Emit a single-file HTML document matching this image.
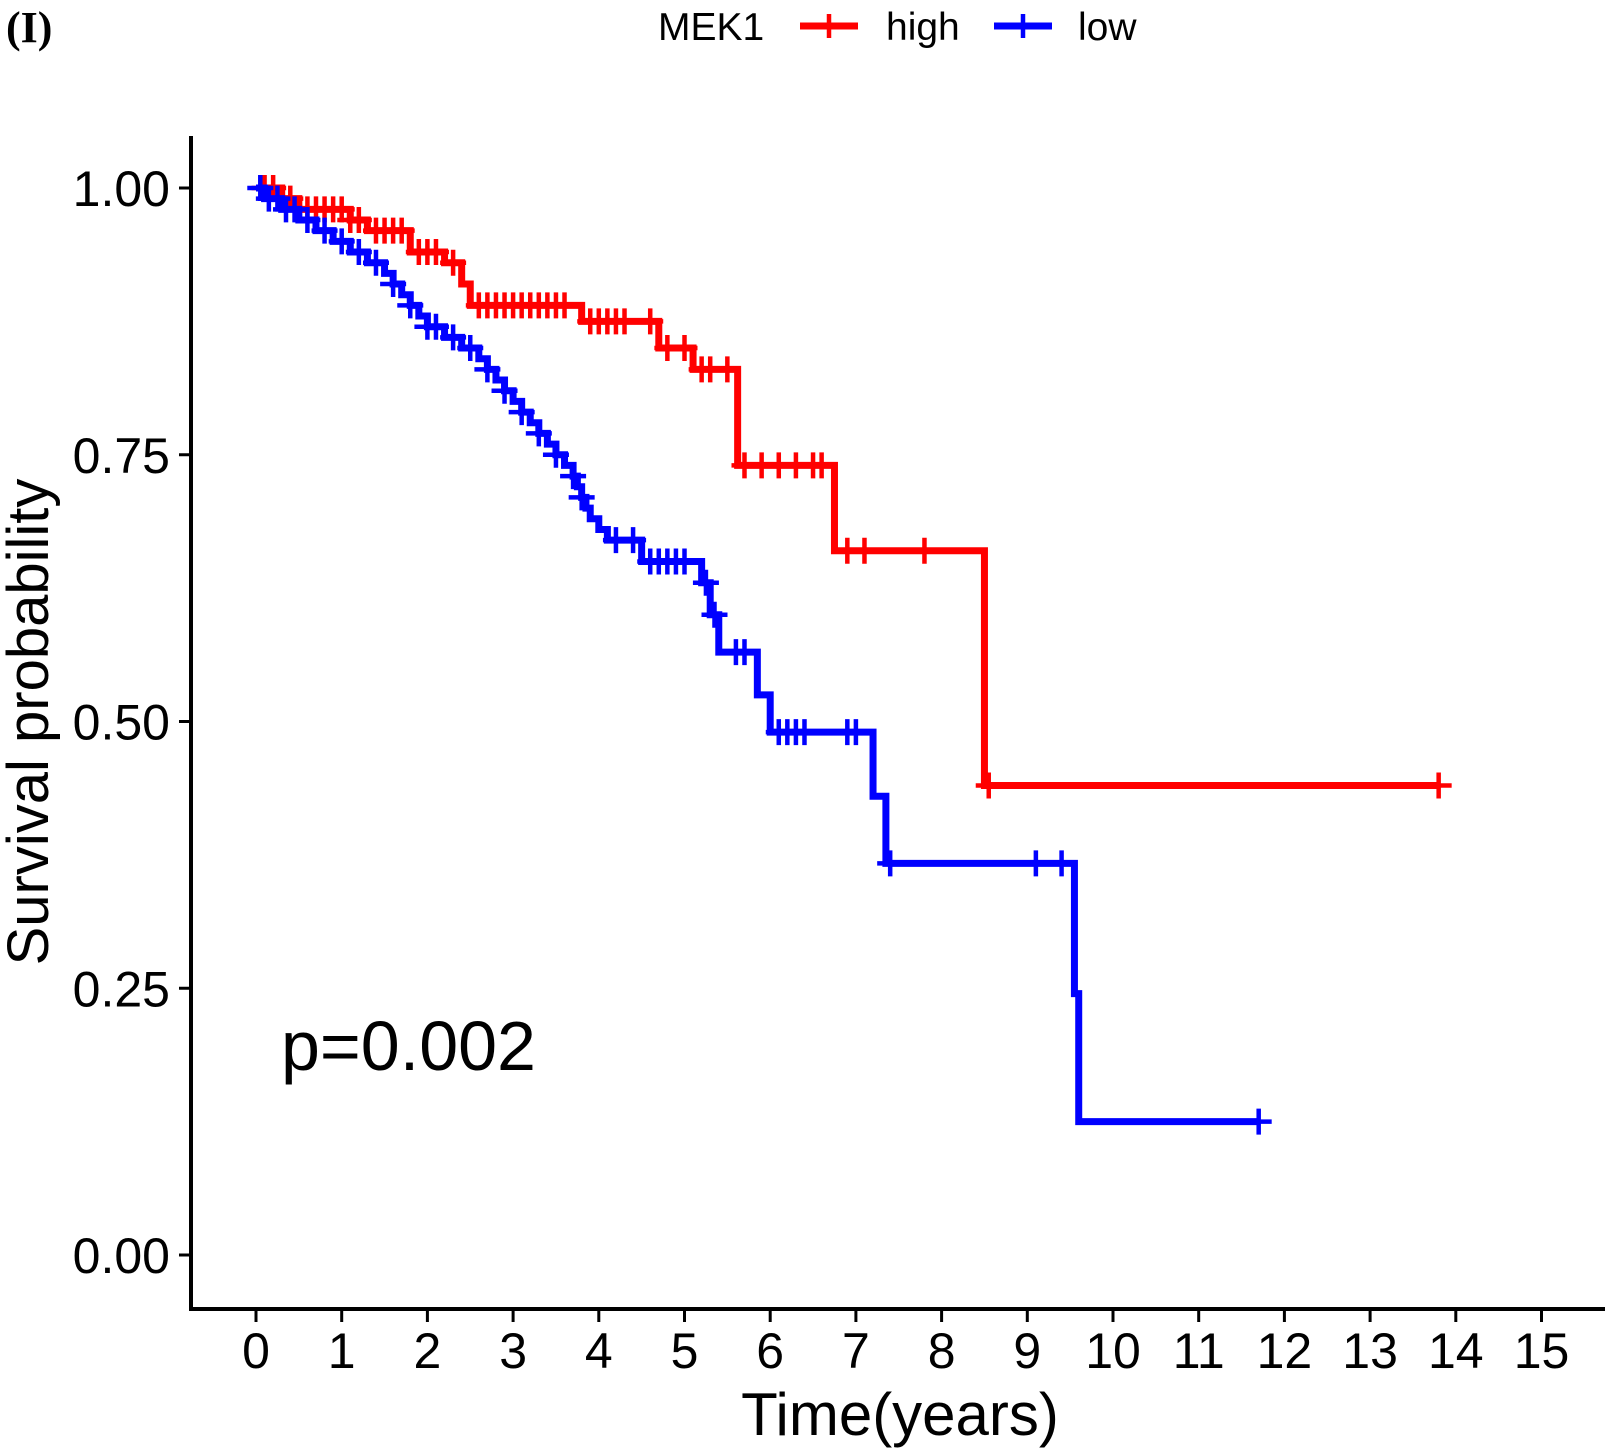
<!DOCTYPE html>
<html><head><meta charset="utf-8"><style>
html,body{margin:0;padding:0;background:#fff;}
svg{display:block;font-family:"Liberation Sans",Arial,sans-serif;}
</style></head><body>
<svg id="chart" width="1610" height="1448" viewBox="0 0 1610 1448" xmlns="http://www.w3.org/2000/svg">
<text x="6" y="42" font-family="Liberation Serif,serif" font-weight="bold" font-size="44">(I)</text>
<g>
<text x="658" y="40" font-size="39">MEK1</text>
<g>
<line x1="800" y1="26" x2="858" y2="26" stroke="#f00" stroke-width="7"/><line x1="829" y1="14" x2="829" y2="38" stroke="#f00" stroke-width="4.5"/>
<text x="886" y="40" font-size="39">high</text></g>
<g>
<line x1="994" y1="26" x2="1052" y2="26" stroke="#00f" stroke-width="7"/><line x1="1023" y1="14" x2="1023" y2="38" stroke="#00f" stroke-width="4.5"/>
<text x="1078" y="40" font-size="39">low</text></g>
</g>
<g id="axes"></g>
<g id="series"></g>
<text x="281" y="1070" font-size="70">p=0.002</text>
<text x="900" y="1435" font-size="60" text-anchor="middle">Time(years)</text>
<text transform="translate(48,722) rotate(-90)" font-size="58" text-anchor="middle">Survival probability</text>
</svg>
<script>
const xTicks=[0,1,2,3,4,5,6,7,8,9,10,11,12,13,14,15];
const yTicks=[0,0.25,0.5,0.75,1];
const yTickLabels=["0.00","0.25","0.50","0.75","1.00"];
const highTimes=[0,0.3,0.5,1.1,1.3,1.8,2.2,2.4,2.5,3.8,4.7,5.1,5.62,6.75,8.5];
const highSurv=[1,0.99,0.98,0.97,0.96,0.94,0.93,0.91,0.89,0.875,0.85,0.83,0.74,0.66,0.44];
const highEnd=13.8;
const highCensor=[0.1,0.2,0.3,0.4,0.6,0.7,0.8,0.9,1.0,1.1,1.2,1.4,1.5,1.6,1.7,1.9,2.0,2.1,2.3,2.6,2.7,2.8,2.9,3.0,3.1,3.2,3.3,3.4,3.5,3.6,3.9,4.0,4.1,4.2,4.3,4.6,4.8,5.0,5.2,5.3,5.5,5.7,5.9,6.1,6.3,6.5,6.6,6.9,7.1,7.8,8.55,13.8];
const lowTimes=[0,0.1,0.3,0.5,0.7,0.9,1.1,1.3,1.5,1.6,1.7,1.8,1.9,2.0,2.2,2.4,2.6,2.7,2.8,2.9,3.0,3.1,3.2,3.3,3.4,3.5,3.6,3.7,3.75,3.8,3.85,3.9,4.0,4.1,4.5,5.2,5.3,5.4,5.85,6.0,7.2,7.35,9.55,9.6];
const lowSurv=[1,0.99,0.98,0.97,0.96,0.95,0.94,0.93,0.92,0.91,0.90,0.89,0.88,0.87,0.86,0.85,0.84,0.83,0.82,0.81,0.80,0.79,0.78,0.77,0.76,0.75,0.74,0.73,0.72,0.71,0.70,0.69,0.68,0.67,0.65,0.63,0.60,0.565,0.525,0.49,0.43,0.367,0.245,0.125];
const lowEnd=11.7;
const lowCensor=[0.05,0.15,0.25,0.35,0.45,0.6,0.8,1.0,1.2,1.4,1.6,1.8,2.0,2.1,2.3,2.5,2.7,2.9,3.1,3.3,3.5,3.7,3.8,4.2,4.4,4.6,4.7,4.8,4.9,5.0,5.25,5.35,5.6,5.7,6.1,6.2,6.3,6.4,6.9,7.0,7.4,9.1,9.4,11.7];

const NS="http://www.w3.org/2000/svg";
const X=t=>256+t*85.7;
const Y=s=>1255-s*1067;
function mk(tag,attrs,parent){const e=document.createElementNS(NS,tag);for(const k in attrs)e.setAttribute(k,attrs[k]);parent.appendChild(e);return e;}
const axes=document.getElementById('axes');
const ya=mk('line',{x1:191,y1:136,x2:191,y2:1311,stroke:'#000','stroke-width':4},axes);


const xa=mk('line',{x1:189,y1:1309,x2:1605,y2:1309,stroke:'#000','stroke-width':4},axes);


xTicks.forEach(v=>{
  mk('line',{x1:X(v),y1:1309,x2:X(v),y2:1322,stroke:'#000','stroke-width':3},axes);
  const t=mk('text',{x:X(v),y:1368,'font-size':50,'text-anchor':'middle'},axes);
  t.textContent=v;
  
  
});
yTicks.forEach((v,i)=>{
  mk('line',{x1:179,y1:Y(v),x2:191,y2:Y(v),stroke:'#000','stroke-width':3},axes);
  const t=mk('text',{x:170,y:Y(v)+18,'font-size':50,'text-anchor':'end'},axes);
  t.textContent=yTickLabels[i];
  
  
});
const series=document.getElementById('series');
function survAt(times,surv,t){let s=surv[0];for(let i=0;i<times.length;i++){if(times[i]<=t)s=surv[i];}return s;}
function draw(times,surv,end,censor,color,name){
  const g=mk('g',{},series);
  
  
  let d='M'+X(times[0])+','+Y(surv[0]);
  for(let i=1;i<times.length;i++){d+=' H'+X(times[i])+' V'+Y(surv[i]);}
  d+=' H'+X(end);
  const p=mk('path',{d:d,fill:'none',stroke:color,'stroke-width':7},g);
  
  
  censor.forEach(t=>{
    const s=survAt(times,surv,t);
    const c=mk('path',{d:'M'+(X(t)-13)+','+Y(s)+' h26 M'+X(t)+','+(Y(s)-13)+' v26',stroke:color,'stroke-width':4.5},g);
    
    
  });
}
draw(highTimes,highSurv,highEnd,highCensor,'#f00','high');
draw(lowTimes,lowSurv,lowEnd,lowCensor,'#00f','low');
</script>
</body></html>
